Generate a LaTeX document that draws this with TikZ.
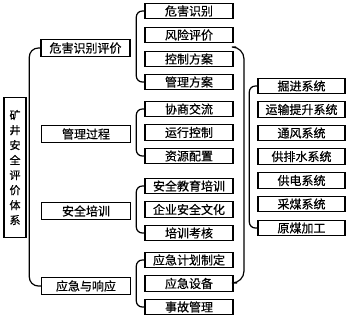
\documentclass[tikz,border=0pt]{standalone}
\usepackage{fontspec}
\newfontfamily\cjk[UprightFeatures={FakeBold=0.5}]{Noto Sans CJK SC}
\usetikzlibrary{positioning,calc}
\tikzset{
  root/.style={rectangle, draw, line width=1.5pt, align=center,
               font=\cjk\fontsize{11}{15}\selectfont, inner sep=0pt,
               minimum width=22pt, minimum height=140pt},
  cat/.style={rectangle, draw, line width=1.4pt, align=center,
              font=\cjk\fontsize{12}{12}\selectfont, inner sep=0pt,
              minimum width=89pt, minimum height=17pt},
  leaf/.style={rectangle, draw, line width=1.4pt, align=center,
               font=\cjk\fontsize{12}{12}\selectfont, inner sep=0pt,
               minimum width=88pt, minimum height=15.5pt},
  sys/.style={leaf, minimum width=87pt},
  brk/.style={line width=1.2pt, rounded corners=6pt},
}
\begin{document}
\begin{tikzpicture}[x=1pt,y=-1pt]
\useasboundingbox (0,0) rectangle (350,322);
% root
\node[root] (root) at (15,167.5) {矿\\井\\安\\全\\评\\价\\体\\系};
% level 1
\node[cat] (h1) at (85.5,48) {危害识别评价};
\node[cat] (h2) at (86,134) {管理过程};
\node[cat] (h3) at (86,211) {安全培训};
\node[cat] (h4) at (86,286) {应急与响应};
% level 2
\node[leaf] (h11) at (189,11) {危害识别};
\node[leaf] (h12) at (189,35) {风险评价};
\node[leaf] (h13) at (189,59) {控制方案};
\node[leaf] (h14) at (189,82) {管理方案};
\node[leaf] (h21) at (189,109) {协商交流};
\node[leaf] (h22) at (189,132.5) {运行控制};
\node[leaf] (h23) at (189,156) {资源配置};
\node[leaf] (h31) at (189,186) {安全教育培训};
\node[leaf] (h32) at (189,209.5) {企业安全文化};
\node[leaf] (h33) at (189,233) {培训考核};
\node[leaf] (h41) at (189,260) {应急计划制定};
\node[leaf] (h42) at (189,283.5) {应急设备};
\node[leaf] (h43) at (189,307) {事故管理};
% systems
\node[sys] (s1) at (301.5,86) {掘进系统};
\node[sys] (s2) at (301.5,109.5) {运输提升系统};
\node[sys] (s3) at (301.5,133) {通风系统};
\node[sys] (s4) at (301.5,156.5) {供排水系统};
\node[sys] (s5) at (301.5,180.5) {供电系统};
\node[sys] (s6) at (301.5,204) {采煤系统};
\node[sys] (s7) at (301.5,228) {原煤加工};
% brackets
\draw[brk, rounded corners=9pt] (h1.west) -- ++(-11,0) |- (h4.west);
\draw[brk] (h11.west) -- ++(-8,0) |- (h14.west);
\draw[brk] (h21.west) -- ++(-8,0) |- (h23.west);
\draw[brk] (h31.west) -- ++(-8,0) |- (h33.west);
\draw[brk] (h41.west) -- ++(-8,0) |- (h43.west);
\coordinate (bt) at (236,47);
\coordinate (bb) at (237,283);
\draw[brk, rounded corners=12pt] (bt) -- ++(8,0) |- (bb);
\draw[brk] (s1.west) -- ++(-8,0) |- (s7.west);
\end{tikzpicture}
\end{document}
